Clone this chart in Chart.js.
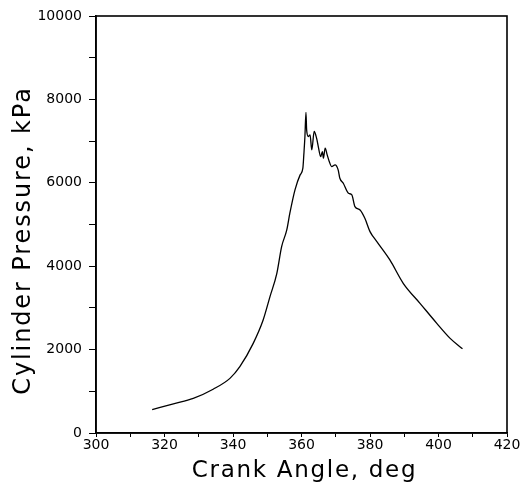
<!DOCTYPE html>
<html>
<head>
<meta charset="utf-8">
<script src="https://cdn.jsdelivr.net/npm/chart.js@4/dist/chart.umd.min.js"></script>
<style>
  html, body { margin: 0; padding: 0; background: #fff; }
  #wrap { width: 528px; height: 482px; }
</style>
</head>
<body>
<div id="wrap"><canvas id="pressureChart"></canvas></div>
<script>
// crank angle (deg) and cylinder pressure (kPa)
const angle = [
  316.4, 322.6, 328.4, 334.2, 339.1, 342.0, 345.9, 348.8, 350.8, 352.8,
  354.2, 355.7, 356.6, 358.1, 359.6, 360.4, 360.7, 361.0, 361.3, 361.5,
  362.0, 362.5, 363.0, 363.7, 364.4, 364.9, 365.6, 366.1, 366.4, 366.9,
  367.5, 368.1, 368.8, 369.8, 370.7, 371.2, 372.2, 373.7, 374.7, 375.6,
  377.1, 378.5, 380.0, 382.0, 385.8, 389.7, 394.6, 399.5, 403.4, 407.0
];
const pressure = [
  560, 700, 830, 1050, 1310, 1590, 2150, 2710, 3270, 3830,
  4470, 4870, 5270, 5830, 6190, 6350, 6700, 7110, 7690, 7270,
  7110, 7150, 6790, 7230, 7070, 6870, 6630, 6750, 6590, 6830,
  6670, 6510, 6390, 6430, 6310, 6110, 5990, 5750, 5710, 5430,
  5350, 5150, 4830, 4590, 4150, 3590, 3110, 2630, 2270, 2020
];
const xMajor = 20;      // labelled x ticks
const yMajor = 2000;    // labelled y ticks
const xTitle = 'Crank Angle, deg';
const yTitle = 'Cylinder Pressure, kPa';

const points = angle.map(function (a, i) { return { x: a, y: pressure[i] }; });
const font = "'DejaVu Sans', sans-serif";

// box round the plot area, and the widely spaced axis titles of the original
// (drawn left-aligned because canvas letterSpacing upsets centred text)
const frame = {
  id: 'frame',
  afterDraw: function (chart) {
    var a = chart.chartArea, ctx = chart.ctx, w;
    ctx.save();
    ctx.strokeStyle = '#000';
    ctx.lineWidth = 1.6;
    ctx.strokeRect(a.left, a.top, a.right - a.left, a.bottom - a.top);

    ctx.fillStyle = '#000';
    ctx.textAlign = 'left';
    ctx.textBaseline = 'alphabetic';

    ctx.font = '23px ' + font;
    ctx.letterSpacing = '1.7px';
    w = ctx.measureText(xTitle).width;
    ctx.fillText(xTitle, (a.left + a.right) / 2 + 3 - w / 2, a.bottom + 44);

    ctx.font = '24px ' + font;
    ctx.letterSpacing = '1.9px';
    w = ctx.measureText(yTitle).width;
    ctx.translate(a.left - 66, (a.top + a.bottom) / 2 + 16);
    ctx.rotate(-Math.PI / 2);
    ctx.fillText(yTitle, -w / 2, 0);
    ctx.restore();
  }
};

const config = {
  type: 'scatter',
  data: {
    datasets: [{
      data: points,
      showLine: true,
      borderColor: '#000',
      borderWidth: 1.3,
      pointRadius: 0,
      cubicInterpolationMode: 'monotone'
    }]
  },
  options: {
    responsive: true,
    maintainAspectRatio: false,
    animation: false,
    layout: { padding: { top: 16, right: 21, left: 0, bottom: 0 } },
    plugins: { legend: { display: false }, tooltip: { enabled: false } },
    scales: {
      x: {
        type: 'linear',
        min: 300, max: 420,
        afterFit: function (s) { s.height = 49; },
        border: { color: '#000', width: 1.6 },
        grid: { drawOnChartArea: false, color: '#000', tickLength: 4 },
        ticks: {
          stepSize: 10,
          padding: 0,
          maxRotation: 0,
          autoSkip: false,
          color: '#000',
          font: { family: font, size: 14 },
          callback: function (v) { return v % xMajor === 0 ? String(v) : ''; }
        }
      },
      y: {
        min: 0, max: 10000,
        afterFit: function (s) { s.width = 96; },
        border: { color: '#000', width: 1.6 },
        grid: { drawOnChartArea: false, color: '#000', tickLength: 7 },
        ticks: {
          stepSize: 1000,
          padding: 7,
          autoSkip: false,
          color: '#000',
          font: { family: font, size: 14 },
          callback: function (v) { return v % yMajor === 0 ? String(v) : ''; }
        }
      }
    }
  },
  plugins: [frame]
};

const pressureChart = new Chart(document.getElementById('pressureChart'), config);
</script>
</body>
</html>
